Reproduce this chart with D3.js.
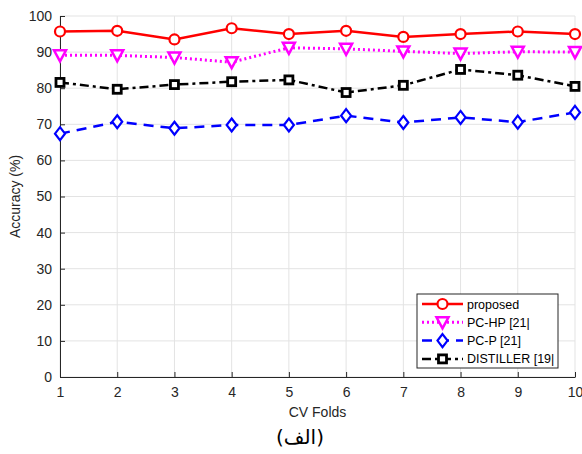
<html>
<script src="https://d3js.org/d3.v7.min.js" charset="utf-8"></script>
<style>
body { margin: 0; background: #fff; }
text { font-family: "Liberation Sans", Arial, sans-serif; }
</style>
<body>
</body>
<script>

// chart data
var folds = [1, 2, 3, 4, 5, 6, 7, 8, 9, 10];
var proposed = [95.7, 95.9, 93.5, 96.6, 95.0, 95.9, 94.2, 95.0, 95.7, 95.0];
var pcHP = [89.1, 89.1, 88.5, 87.2, 91.2, 90.9, 90.2, 89.6, 90.1, 90.0];
var pcP = [67.4, 70.7, 68.9, 69.8, 69.8, 72.4, 70.5, 71.9, 70.6, 73.3];
var distiller = [81.6, 79.7, 81.0, 81.8, 82.3, 78.8, 80.8, 85.2, 83.6, 80.5];
var yTicks = [0, 10, 20, 30, 40, 50, 60, 70, 80, 90, 100];
var seriesNames = ["proposed", "PC-HP [21|", "PC-P [21]", "DISTILLER [19|"];

chart();

function chart() {
	var W = 582, H = 454;
	var pl = 60, pr = 575, pt = 16, pb = 377;

	var svg = d3.select("body").append("svg")
		.attr("width", W)
		.attr("height", H);

	var x = d3.scaleLinear().domain([1, 10]).range([pl, pr]);
	var y = d3.scaleLinear().domain([0, 100]).range([pb, pt]);

	// grid
	svg.append("g").selectAll("line").data(folds).enter().append("line")
		.attr("x1", d => x(d)).attr("x2", d => x(d))
		.attr("y1", pt).attr("y2", pb)
		.style("stroke", "#e3e3e3").style("stroke-width", 1);
	svg.append("g").selectAll("line").data(yTicks).enter().append("line")
		.attr("x1", pl).attr("x2", pr)
		.attr("y1", d => y(d)).attr("y2", d => y(d))
		.style("stroke", "#e3e3e3").style("stroke-width", 1);

	// axes (matlab style, ticks pointing in)
	var xAxis = d3.axisBottom(x).tickValues(folds).tickSizeInner(-5).tickSizeOuter(0).tickPadding(10);
	var yAxis = d3.axisLeft(y).tickValues(yTicks).tickSizeInner(-5).tickSizeOuter(0).tickPadding(8);

	var gx = svg.append("g").attr("transform", "translate(0," + pb + ")").call(xAxis);
	var gy = svg.append("g").attr("transform", "translate(" + pl + ",0)").call(yAxis);
	[gx, gy].forEach(function(g) {
		g.select(".domain").style("stroke", "#262626").style("stroke-width", 1);
		g.selectAll(".tick line").style("stroke", "#262626");
		g.selectAll(".tick text").style("fill", "#262626").style("font-size", "14px")
			.style("font-family", "Liberation Sans, Arial, sans-serif");
	});

	// axis labels
	svg.append("text")
		.attr("x", (pl + pr) / 2).attr("y", 417)
		.attr("text-anchor", "middle")
		.style("font-size", "14px").style("fill", "#262626")
		.text("CV Folds");
	svg.append("text")
		.attr("transform", "translate(20," + ((pt + pb) / 2) + ") rotate(-90)")
		.attr("text-anchor", "middle")
		.style("font-size", "14px").style("fill", "#262626")
		.text("Accuracy (%)");
	svg.append("text")
		.attr("x", 300).attr("y", 444)
		.attr("text-anchor", "middle")
		.style("font-size", "20px").style("fill", "#000")
		.style("font-family", "DejaVu Sans, sans-serif")
		.text("(الف)");

	// series
	var series = [
		{ name: seriesNames[0], vals: proposed, color: "#ff0000", dash: null, width: 2.5, marker: "circle" },
		{ name: seriesNames[1], vals: pcHP, color: "#ff00ff", dash: "2,3", width: 3, marker: "tri" },
		{ name: seriesNames[2], vals: pcP, color: "#0000ff", dash: "10,7", width: 2.5, marker: "diamond" },
		{ name: seriesNames[3], vals: distiller, color: "#000000", dash: "9,4,3,4", width: 2.5, marker: "square" }
	];

	var line = d3.line().x((d, i) => x(folds[i])).y(d => y(d));

	series.forEach(function(s) {
		var g = svg.append("g");
		g.append("path").datum(s.vals)
			.attr("d", line)
			.style("fill", "none")
			.style("stroke", s.color)
			.style("stroke-width", s.width)
			.style("stroke-dasharray", s.dash);
		s.vals.forEach(function(v, i) {
			drawMarker(g, s.marker, x(folds[i]), y(v), s.color);
		});
	});

	// legend
	var lg = svg.append("g");
	lg.append("rect")
		.attr("x", 417).attr("y", 294).attr("width", 141).attr("height", 74)
		.style("fill", "#fff").style("stroke", "#262626").style("stroke-width", 1);
	series.forEach(function(s, i) {
		var ly = 304 + i * 18.3;
		lg.append("line")
			.attr("x1", 422).attr("x2", 463).attr("y1", ly).attr("y2", ly)
			.style("stroke", s.color).style("stroke-width", s.width)
			.style("stroke-dasharray", s.dash);
		drawMarker(lg, s.marker, 442.5, ly, s.color);
		lg.append("text")
			.attr("x", 467).attr("y", ly + 4.5)
			.style("font-size", "12.5px").style("fill", "#000")
			.text(s.name);
	});
}

function drawMarker(g, type, cx, cy, color) {
	if (type == "circle") {
		g.append("circle").attr("cx", cx).attr("cy", cy).attr("r", 5)
			.style("fill", "#fff").style("stroke", color).style("stroke-width", 2.2);
	} else if (type == "tri") {
		g.append("path").attr("d", "M" + (cx - 6) + "," + (cy - 5) + "L" + (cx + 6) + "," + (cy - 5) + "L" + cx + "," + (cy + 6) + "Z")
			.style("fill", "#fff").style("stroke", color).style("stroke-width", 2.5);
	} else if (type == "diamond") {
		g.append("path").attr("d", "M" + cx + "," + (cy - 6.5) + "L" + (cx + 5) + "," + cy + "L" + cx + "," + (cy + 6.5) + "L" + (cx - 5) + "," + cy + "Z")
			.style("fill", "#fff").style("stroke", color).style("stroke-width", 2.2);
	} else {
		g.append("rect").attr("x", cx - 4).attr("y", cy - 4).attr("width", 8).attr("height", 8)
			.style("fill", "#fff").style("stroke", color).style("stroke-width", 2.8);
	}
}

</script>
</html>
